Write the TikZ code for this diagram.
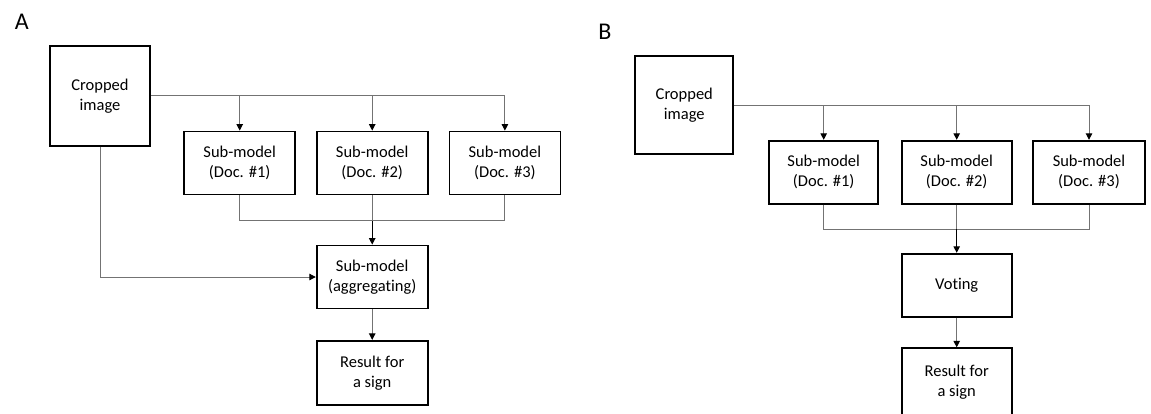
\documentclass[tikz,border=0pt]{standalone}
\usepackage{fontspec}
\setmainfont[Ligatures=NoCommon]{Carlito}
\usetikzlibrary{arrows.meta}
\begin{document}
\begin{tikzpicture}[x=1pt,y=-1pt,
  box/.style={draw=black, line width=1.8pt, fill=white, inner sep=0pt, align=center,
    font=\fontsize{16.5}{20}\selectfont},
  conn/.style={draw=black!55, line width=1pt},
  tip/.style={-{Triangle[width=6.5pt,length=6.5pt,color=black]}},
  plabel/.style={anchor=base west, inner sep=0pt, font=\fontsize{24}{26}\selectfont}
]
\useasboundingbox (0,0) rectangle (1151,413);

% ---------- Panel A ----------
\node[plabel] (labA) at (14.6,29.5) {A};
\node[box, minimum width=100pt, minimum height=100pt] (cropA) at (100,95.8) {Cropped\\image};
\node[box, minimum width=111pt, minimum height=63pt] (d1A) at (239.7,163) {Sub-model\\(Doc. \#1)};
\node[box, minimum width=111pt, minimum height=63pt] (d2A) at (372.2,163) {Sub-model\\(Doc. \#2)};
\node[box, minimum width=111pt, minimum height=63pt] (d3A) at (504.9,163) {Sub-model\\(Doc. \#3)};
\node[box, minimum width=111pt, minimum height=63pt] (aggA) at (372.2,277) {Sub-model\\(aggregating)};
\node[box, minimum width=111pt, minimum height=64pt] (resA) at (372.2,372.8) {Result for\\a sign};
\coordinate (jA) at (372.2,220.5);

\draw[conn, tip] (cropA.east) -| (d3A.north);
\draw[conn, tip] (d1A.north |- cropA.east) -- (d1A.north);
\draw[conn, tip] (d2A.north |- cropA.east) -- (d2A.north);
\draw[conn] (d1A.south) |- (jA) -| (d3A.south);
\draw[conn] (d2A.south) -- (jA);
\draw[conn, draw=black, tip] (jA) -- (aggA.north);
\draw[conn, tip] (cropA.south) |- (aggA.west);
\draw[conn, tip] (aggA.south) -- (resA.north);

% ---------- Panel B ----------
\node[plabel] (labB) at (598.2,39.3) {B};
\node[box, minimum width=98pt, minimum height=98pt] (cropB) at (684.3,105) {Cropped\\image};
\node[box, minimum width=109pt, minimum height=63pt] (d1B) at (823.7,172.2) {Sub-model\\(Doc. \#1)};
\node[box, minimum width=110pt, minimum height=63pt] (d2B) at (956.7,172.2) {Sub-model\\(Doc. \#2)};
\node[box, minimum width=111.5pt, minimum height=63pt] (d3B) at (1089,172.2) {Sub-model\\(Doc. \#3)};
\node[box, minimum width=110pt, minimum height=63pt] (vote) at (956.7,285.2) {Voting};
\node[box, minimum width=110pt, minimum height=68pt] (resB) at (956.7,382.2) {Result for\\a sign};
\coordinate (jB) at (956.7,229.2);

\draw[conn, tip] (cropB.east) -| (d3B.north);
\draw[conn, tip] (d1B.north |- cropB.east) -- (d1B.north);
\draw[conn, tip] (d2B.north |- cropB.east) -- (d2B.north);
\draw[conn] (d1B.south) |- (jB) -| (d3B.south);
\draw[conn] (d2B.south) -- (jB);
\draw[conn, draw=black, tip] (jB) -- (vote.north);
\draw[conn, tip] (vote.south) -- (resB.north);
\end{tikzpicture}
\end{document}
